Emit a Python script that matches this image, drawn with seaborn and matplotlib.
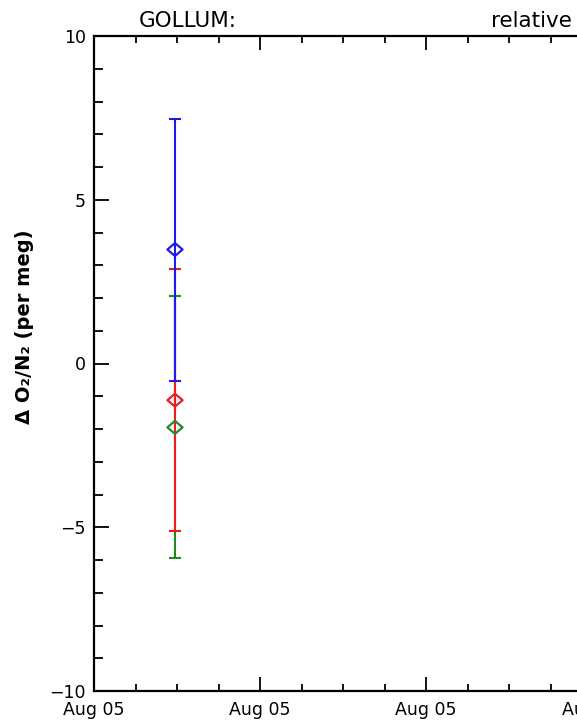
import numpy as np
import pandas as pd
import matplotlib
matplotlib.use("Agg")
import matplotlib.pyplot as plt
import matplotlib.dates as mdates
from matplotlib.path import Path
from matplotlib.ticker import MultipleLocator
import seaborn as sns

# Measurements: one averaged point per gas-mixture run, with 1-sigma error
series = ["blue", "red", "green"]
times = pd.to_datetime(["2005-08-05 01:57", "2005-08-05 01:57", "2005-08-05 01:57"])
values = [3.48, -1.12, -1.95]
errors = [4.0, 4.0, 4.0]
colors = {"blue": "#1c1ce8", "red": "#ee1c1c", "green": "#238a23"}

x_start = pd.Timestamp("2005-08-05 00:00")
x_end = pd.Timestamp("2005-08-05 14:24")
y_ticks = [-10, -5, 0, 5, 10]

df = pd.DataFrame({"series": series, "time": times, "value": values, "err": errors})

sns.set_theme(style="ticks")
plt.rcParams["font.family"] = ["DejaVu Sans"]
plt.rcParams["axes.unicode_minus"] = True

fig = plt.figure(figsize=(5.77, 7.24), dpi=100)
fig.patch.set_facecolor("white")
# 166 px per 4-hour major interval; the frame runs past the right edge
ax = fig.add_axes([94 / 577, 33 / 724, 598 / 577, 655 / 724])
ax.set_facecolor("white")

# Open diamond, a little wider than tall
diamond = Path([(-1.0, 0.0), (0.0, 0.85), (1.0, 0.0), (0.0, -0.85), (-1.0, 0.0)],
               [Path.MOVETO, Path.LINETO, Path.LINETO, Path.LINETO, Path.CLOSEPOLY])

# Draw order: green underneath, blue on top
for z, name in zip([2, 3, 4], ["green", "red", "blue"]):
    sub = df[df["series"] == name]
    c = colors[name]
    ax.errorbar(sub["time"], sub["value"], yerr=sub["err"], fmt="none",
                ecolor=c, elinewidth=1.5, capsize=4.2, capthick=1.5, zorder=z)
    sns.scatterplot(data=sub, x="time", y="value", ax=ax, marker=diamond, s=120,
                    color=c, facecolor="none", edgecolor=c, linewidth=1.6,
                    zorder=z + 3, legend=False)

ax.set_xlim(x_start, x_end)
ax.set_ylim(-10, 10)
ax.set_yticks(y_ticks)
ax.yaxis.set_minor_locator(MultipleLocator(1))
ax.xaxis.set_major_locator(mdates.HourLocator(byhour=range(0, 24, 4)))
ax.xaxis.set_minor_locator(mdates.HourLocator())
ax.xaxis.set_major_formatter(mdates.DateFormatter("%b %d"))
ax.set_xlabel("")
ax.set_ylabel("")

for side in ["left", "right", "top", "bottom"]:
    ax.spines[side].set_visible(True)
    ax.spines[side].set_color("black")
    ax.spines[side].set_linewidth(1.6)

ax.tick_params(axis="both", which="both", direction="in", top=True, right=True,
               colors="black", width=1.3)
ax.tick_params(axis="x", which="major", length=10, pad=7, labelsize=12.5)
ax.tick_params(axis="x", which="minor", length=5)
ax.tick_params(axis="y", which="major", length=11, pad=6, labelsize=12.5)
ax.tick_params(axis="y", which="minor", length=6.5)

fig.text(25 / 577, 1 - 327 / 724, "Δ O₂/N₂ (per meg)", rotation=90,
         ha="center", va="center", fontsize=14, fontweight="bold", color="black")

fig.text(139 / 577, 1 - 21 / 724, "GOLLUM:", ha="left", va="center",
         fontsize=15.5, color="black")
fig.text(491 / 577, 1 - 21 / 724, "relative", ha="left", va="center",
         fontsize=15.5, color="black")

fig.savefig("out.png", dpi=100, facecolor="white")
